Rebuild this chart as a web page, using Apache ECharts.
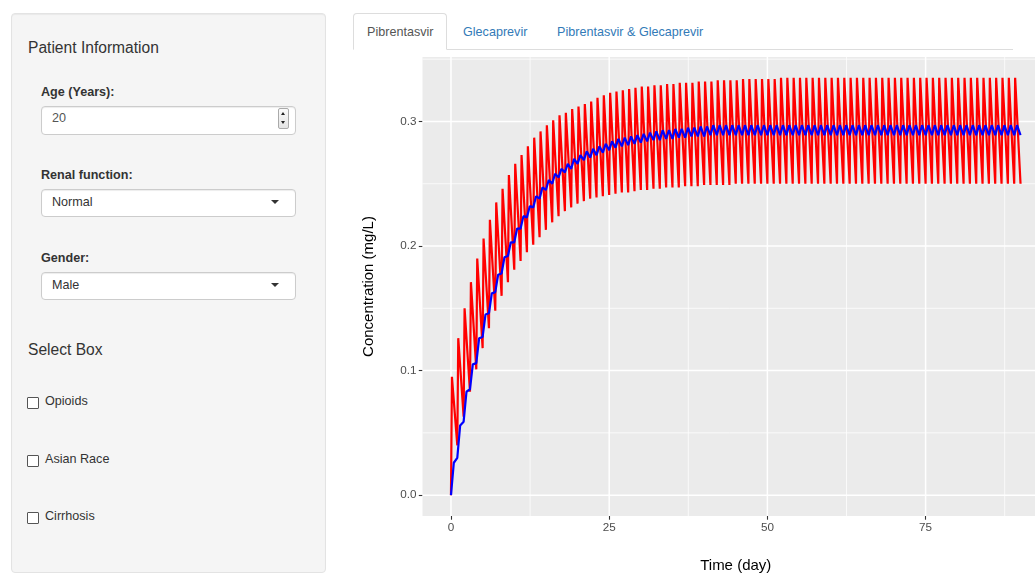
<!DOCTYPE html>
<html>
<head>
<meta charset="utf-8">
<title>Pibrentasvir concentration</title>
<script src="https://cdn.jsdelivr.net/npm/echarts@6/dist/echarts.min.js"></script>
<style>
html,body{margin:0;padding:0;width:1035px;height:575px;overflow:hidden;background:#fff;font-family:"Liberation Sans",Arial,sans-serif;color:#333;}
.abs{position:absolute;}
.well{left:11px;top:13px;width:315px;height:560px;box-sizing:border-box;background:#f5f5f5;border:1px solid #e3e3e3;border-radius:4px;box-shadow:inset 0 1px 1px rgba(0,0,0,.05);}
.h4{font-size:15.6px;line-height:15.6px;white-space:nowrap;color:#333;}
.lbl{font-size:12.6px;line-height:12.6px;font-weight:bold;white-space:nowrap;color:#333;}
.txt{font-size:12.6px;line-height:12.6px;white-space:nowrap;color:#333;}
.ctl{box-sizing:border-box;background:#fff;border:1px solid #ccc;border-radius:4px;box-shadow:inset 0 1px 1px rgba(0,0,0,.075);}
.caret{width:0;height:0;border-left:4px solid transparent;border-right:4px solid transparent;border-top:4px solid #333;}
.cb{box-sizing:border-box;width:12px;height:12px;border:1px solid #555;background:#fff;border-radius:1px;}
.spin{box-sizing:border-box;width:11px;height:21px;border:1px solid #aaa;border-radius:2px;background:linear-gradient(#fbfbfb,#e4e4e4);}
.up{width:0;height:0;border-left:2.5px solid transparent;border-right:2.5px solid transparent;border-bottom:3px solid #222;}
.dn{width:0;height:0;border-left:2.5px solid transparent;border-right:2.5px solid transparent;border-top:3px solid #222;}
.tab{left:353px;top:13px;width:94px;height:37px;box-sizing:border-box;background:#fff;border:1px solid #ddd;border-bottom-color:transparent;border-radius:4px 4px 0 0;}
.link{color:#337ab7;}
#chart{position:absolute;left:0;top:0;width:1035px;height:575px;}
</style>
</head>
<body>
<!-- sidebar -->
<div class="abs well"></div>
<div class="abs h4" style="left:28px;top:40px;">Patient Information</div>
<div class="abs lbl" style="left:41px;top:86px;">Age (Years):</div>
<div class="abs ctl" style="left:41px;top:106px;width:255px;height:29px;"></div>
<div class="abs txt" style="left:52px;top:112px;color:#555;">20</div>
<div class="abs spin" style="left:278px;top:107.5px;"></div>
<div class="abs up" style="left:281px;top:112px;"></div>
<div class="abs dn" style="left:281px;top:121px;"></div>
<div class="abs lbl" style="left:41px;top:168.6px;">Renal function:</div>
<div class="abs ctl" style="left:41px;top:189px;width:255px;height:28px;"></div>
<div class="abs txt" style="left:52px;top:196px;">Normal</div>
<div class="abs caret" style="left:271px;top:200px;"></div>
<div class="abs lbl" style="left:41px;top:252px;">Gender:</div>
<div class="abs ctl" style="left:41px;top:272px;width:255px;height:28px;"></div>
<div class="abs txt" style="left:52px;top:279.3px;">Male</div>
<div class="abs caret" style="left:271px;top:283px;"></div>
<div class="abs h4" style="left:28px;top:341.8px;">Select Box</div>
<div class="abs cb" style="left:27px;top:397px;"></div>
<div class="abs txt" style="left:45px;top:395.3px;">Opioids</div>
<div class="abs cb" style="left:27px;top:454.5px;"></div>
<div class="abs txt" style="left:45px;top:452.6px;">Asian Race</div>
<div class="abs cb" style="left:27px;top:512px;"></div>
<div class="abs txt" style="left:45px;top:510px;">Cirrhosis</div>

<!-- tabs -->
<div class="abs" style="left:353px;top:49px;width:660px;height:1px;background:#ddd;"></div>
<div class="abs tab"></div>
<div class="abs txt" style="left:367px;top:26.3px;color:#555;">Pibrentasvir</div>
<div class="abs txt link" style="left:463px;top:26.3px;">Glecaprevir</div>
<div class="abs txt link" style="left:557px;top:26.3px;">Pibrentasvir &amp; Glecaprevir</div>

<div id="chart"></div>
<script>
// Concentration at each daily dose time (trough) and at the post-dose peak, days 0..90
const redTrough = [
  0.000,0.040,0.063,0.083,0.101,0.118,0.134,0.148,0.160,0.171,
  0.181,0.188,0.195,0.201,0.207,0.213,0.219,0.224,0.228,0.231,
  0.234,0.236,0.238,0.239,0.240,0.241,0.242,0.243,0.243,0.244,
  0.245,0.245,0.246,0.246,0.247,0.247,0.247,0.248,0.248,0.248,
  0.249,0.249,0.249,0.249,0.249,0.250,0.250,0.250,0.250,0.250,
  0.250,0.250,0.250,0.250,0.250,0.250,0.250,0.250,0.250,0.250,
  0.250,0.250,0.250,0.250,0.250,0.250,0.250,0.250,0.250,0.250,
  0.250,0.250,0.250,0.250,0.250,0.250,0.250,0.250,0.250,0.250,
  0.250,0.250,0.250,0.250,0.250,0.250,0.250,0.250,0.250,0.250,
  0.250
];
const redPeak = [
  0.095,0.126,0.150,0.171,0.190,0.206,0.221,0.235,0.246,0.257,
  0.266,0.273,0.280,0.287,0.292,0.297,0.301,0.305,0.307,0.310,
  0.312,0.314,0.316,0.319,0.321,0.323,0.324,0.325,0.326,0.327,
  0.328,0.328,0.329,0.329,0.330,0.330,0.331,0.331,0.331,0.332,
  0.332,0.332,0.333,0.333,0.333,0.333,0.334,0.334,0.334,0.334,
  0.334,0.334,0.335,0.335,0.335,0.335,0.335,0.335,0.335,0.335,
  0.335,0.335,0.335,0.335,0.335,0.335,0.335,0.335,0.335,0.335,
  0.335,0.335,0.335,0.335,0.335,0.335,0.335,0.335,0.335,0.335,
  0.335,0.335,0.335,0.335,0.335,0.335,0.335,0.335,0.335,0.335
];
const blueTrough = [
  0.000,0.030,0.059,0.085,0.106,0.127,0.146,0.163,0.178,0.192,
  0.203,0.214,0.223,0.231,0.238,0.245,0.250,0.255,0.259,0.262,
  0.266,0.269,0.271,0.273,0.275,0.277,0.279,0.280,0.281,0.282,
  0.283,0.284,0.285,0.285,0.286,0.286,0.287,0.287,0.288,0.288,
  0.288,0.289,0.289,0.289,0.289,0.289,0.289,0.289,0.289,0.289,
  0.289,0.289,0.289,0.289,0.289,0.289,0.289,0.289,0.289,0.289,
  0.289,0.289,0.289,0.289,0.289,0.289,0.289,0.289,0.289,0.289,
  0.289,0.289,0.289,0.289,0.289,0.289,0.289,0.289,0.289,0.289,
  0.289,0.289,0.289,0.289,0.289,0.289,0.289,0.289,0.289,0.289,
  0.289
];
const bluePeak = [
  0.026,0.056,0.083,0.105,0.126,0.145,0.162,0.177,0.191,0.203,
  0.214,0.224,0.232,0.240,0.247,0.253,0.258,0.262,0.266,0.270,
  0.273,0.276,0.278,0.280,0.282,0.284,0.286,0.287,0.288,0.289,
  0.290,0.291,0.292,0.293,0.293,0.294,0.294,0.295,0.295,0.296,
  0.296,0.297,0.297,0.297,0.297,0.297,0.297,0.297,0.297,0.297,
  0.297,0.297,0.297,0.297,0.297,0.297,0.297,0.297,0.297,0.297,
  0.297,0.297,0.297,0.297,0.297,0.297,0.297,0.297,0.297,0.297,
  0.297,0.297,0.297,0.297,0.297,0.297,0.297,0.297,0.297,0.297,
  0.297,0.297,0.297,0.297,0.297,0.297,0.297,0.297,0.297,0.297
];
// time from dose to peak, in days
const redPeakTime = 0.15;
const bluePeakTime = 0.45;

// axis breaks and limits
const xTicks = [0, 25, 50, 75];
const xMinor = [12.5, 37.5, 62.5, 87.5];
const yTicks = [0, 0.1, 0.2, 0.3];
const yMinor = [0.05, 0.15, 0.25, 0.35];
const xLimits = [-4.5, 94.5];
const yLimits = [-0.01675, 0.35175];

const FONT = '"Liberation Sans", Arial, sans-serif';

function profile(trough, peak, tPeak) {
  const pts = [];
  for (let d = 0; d < peak.length; d++) {
    pts.push([d, trough[d]]);
    pts.push([d + tPeak, peak[d]]);
  }
  pts.push([peak.length, trough[peak.length]]);
  return pts;
}

// white panel grid lines, drawn through the axis scales
function gridLines(values, dir, width) {
  return {
    type: 'custom',
    z: 1,
    silent: true,
    animation: false,
    data: values.map(v => dir === 'x' ? [v, yLimits[0]] : [xLimits[0], v]),
    renderItem: (params, api) => {
      const v = api.value(dir === 'x' ? 0 : 1);
      const p1 = dir === 'x' ? api.coord([v, yLimits[0]]) : api.coord([xLimits[0], v]);
      const p2 = dir === 'x' ? api.coord([v, yLimits[1]]) : api.coord([xLimits[1], v]);
      return {
        type: 'line',
        shape: { x1: p1[0], y1: p1[1], x2: p2[0], y2: p2[1] },
        style: { stroke: '#FFFFFF', lineWidth: width }
      };
    }
  };
}

const chart = echarts.init(document.getElementById('chart'), null, { renderer: 'canvas' });
chart.setOption({
  backgroundColor: 'transparent',
  animation: false,
  textStyle: { fontFamily: FONT },
  grid: {
    left: 422.5, top: 57, width: 626.5, height: 459,
    containLabel: false,
    outerBoundsMode: 'none',
    show: true, backgroundColor: '#EBEBEB', borderWidth: 0
  },
  xAxis: {
    type: 'value',
    min: xLimits[0], max: xLimits[1],
    axisLine: { show: false, onZero: false },
    splitLine: { show: false },
    axisTick: { show: true, length: 3.7, customValues: xTicks, lineStyle: { color: '#333333', width: 1.1 } },
    axisLabel: { customValues: xTicks, margin: 6, color: '#4D4D4D', fontSize: 11.7, fontFamily: FONT },
    name: 'Time (day)',
    nameLocation: 'middle',
    nameGap: 42,
    nameTextStyle: { color: '#000000', fontSize: 15, fontFamily: FONT }
  },
  yAxis: {
    type: 'value',
    min: yLimits[0], max: yLimits[1],
    axisLine: { show: false, onZero: false },
    splitLine: { show: false },
    axisTick: { show: true, length: 3.7, customValues: yTicks, lineStyle: { color: '#333333', width: 1.1 } },
    axisLabel: { customValues: yTicks, margin: 6, color: '#4D4D4D', fontSize: 11.7, fontFamily: FONT,
                 formatter: v => v.toFixed(1) },
    name: 'Concentration (mg/L)',
    nameLocation: 'middle',
    nameGap: 46,
    nameRotate: 90,
    nameTextStyle: { color: '#000000', fontSize: 15, fontFamily: FONT }
  },
  series: [
    gridLines(xMinor, 'x', 0.75),
    gridLines(yMinor, 'y', 0.75),
    gridLines(xTicks, 'x', 1.5),
    gridLines(yTicks, 'y', 1.5),
    {
      name: 'Pibrentasvir', type: 'line', z: 2,
      data: profile(redTrough, redPeak, redPeakTime),
      showSymbol: false, symbol: 'none',
      lineStyle: { color: '#FF0000', width: 2.2 }
    },
    {
      name: 'Pibrentasvir (typical)', type: 'line', z: 3,
      data: profile(blueTrough, bluePeak, bluePeakTime),
      showSymbol: false, symbol: 'none',
      lineStyle: { color: '#0000FF', width: 2.2 }
    }
  ]
});
</script>
</body>
</html>
